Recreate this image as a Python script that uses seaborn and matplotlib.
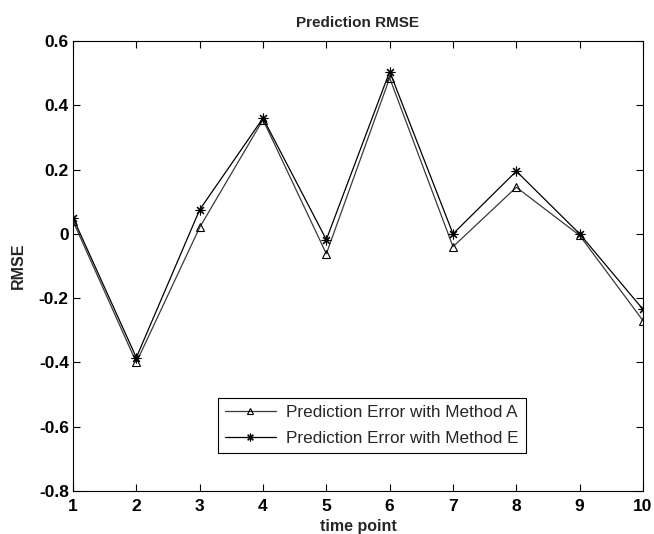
import matplotlib
matplotlib.use("Agg")
import matplotlib.pyplot as plt
import seaborn as sns
import pandas as pd

time_points = [1, 2, 3, 4, 5, 6, 7, 8, 9, 10]
err_method_a = [0.04, -0.40, 0.02, 0.355, -0.062, 0.485, -0.04, 0.145, -0.005, -0.27]
err_method_e = [0.05, -0.385, 0.075, 0.36, -0.018, 0.505, 0.0, 0.195, 0.0, -0.235]
label_a = "Prediction Error with Method A"
label_e = "Prediction Error with Method E"
x_ticks = [1, 2, 3, 4, 5, 6, 7, 8, 9, 10]
y_ticks = [-0.8, -0.6, -0.4, -0.2, 0, 0.2, 0.4, 0.6]
y_tick_labels = ["-0.8", "-0.6", "-0.4", "-0.2", "0", "0.2", "0.4", "0.6"]

sns.set_style("white")
plt.rcParams["font.family"] = ["Liberation Sans", "DejaVu Sans"]

df_a = pd.DataFrame({"t": time_points, "v": err_method_a})
df_e = pd.DataFrame({"t": time_points, "v": err_method_e})

fig = plt.figure(figsize=(6.54, 5.34), dpi=100)
ax = fig.add_axes([73 / 654, 1 - 491 / 534, (643 - 73) / 654, (491 - 41) / 534])

sns.lineplot(data=df_a, x="t", y="v", ax=ax, color="#3a3a3a", linewidth=0.9,
             marker="^", markersize=6, markerfacecolor="none",
             markeredgecolor="black", markeredgewidth=0.8, label=label_a)
sns.lineplot(data=df_e, x="t", y="v", ax=ax, color="black", linewidth=0.9,
             marker=(8, 2, 0), markersize=7, markeredgecolor="black",
             markeredgewidth=0.8, label=label_e)

ax.set_xlim(1, 10)
ax.set_ylim(-0.8, 0.6)
ax.set_xticks(x_ticks)
ax.set_xticklabels([str(v) for v in x_ticks])
ax.set_yticks(y_ticks)
ax.set_yticklabels(y_tick_labels)
for lab in ax.get_xticklabels() + ax.get_yticklabels():
    lab.set_fontweight("bold")
    lab.set_fontsize(12.5)
ax.tick_params(direction="in", length=5, width=0.8, top=True, right=True,
               bottom=True, left=True, pad=3, colors="black")
ax.tick_params(axis="x", pad=6)
for s in ax.spines.values():
    s.set_color("black")
    s.set_linewidth(0.8)

ax.set_title("Prediction RMSE", fontsize=11, fontweight="bold", pad=10)
ax.set_xlabel("time point", fontsize=11.5, fontweight="bold", labelpad=3)
ax.set_ylabel("RMSE", fontsize=11.5, fontweight="bold", labelpad=9)

leg = ax.legend(loc="lower left", bbox_to_anchor=(218 / 654, 1 - 453 / 534),
                bbox_transform=fig.transFigure, fontsize=12.3, frameon=True,
                fancybox=False, edgecolor="black", framealpha=1,
                borderpad=0.42, labelspacing=0.62, handlelength=2.95,
                handletextpad=0.62, borderaxespad=0, markerscale=0.8)
leg.get_frame().set_linewidth(0.8)

fig.savefig("out.png", dpi=100)
